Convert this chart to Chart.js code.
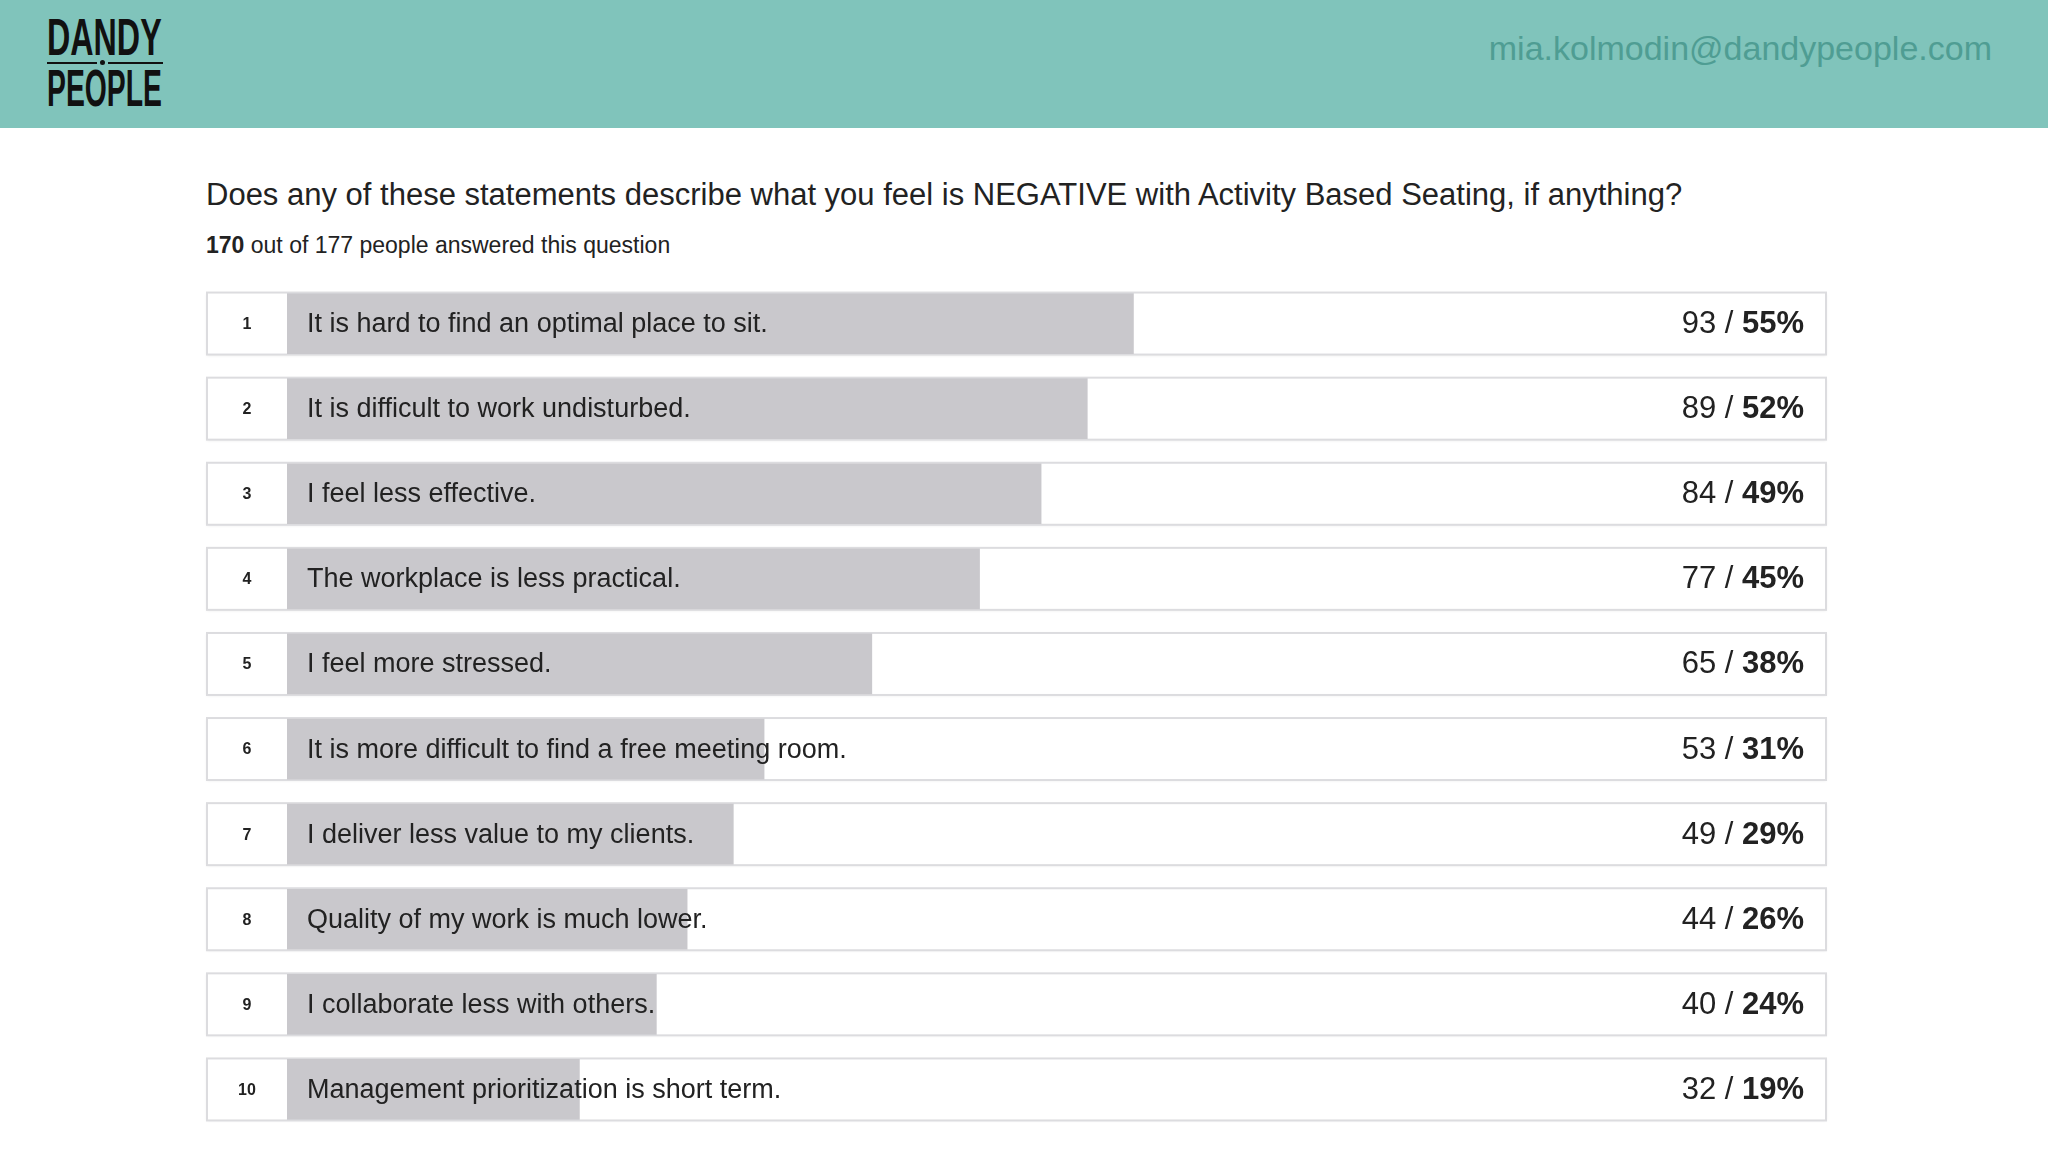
<!DOCTYPE html>
<html>
<head>
<meta charset="utf-8">
<script src="https://cdn.jsdelivr.net/npm/chart.js@4"></script>
<style>
  body { margin: 0; width: 2048px; height: 1152px; background: #fff; overflow: hidden;
         font-family: "Liberation Sans", Arial, Helvetica, sans-serif; position: relative; }
  .band { position: absolute; left: 0; top: 0; width: 2048px; height: 128px; background: #80c4bb; }
  .logo { position: absolute; left: 47px; top: 15px; width: 116px; color: #111; }
  .logo .word { display: block; font-weight: bold; font-size: 52px; line-height: 45px;
                transform-origin: left top; white-space: nowrap; }
  .logo .rule { position: relative; height: 6px; }
  .logo .rule i { position: absolute; top: 2px; height: 2px; background: #111; }
  .logo .rule b { position: absolute; top: 0px; left: 53px; width: 5px; height: 5px; border-radius: 3px; background: #111; }
  .mail { position: absolute; right: 56px; top: 29px; font-size: 34px; color: #4f9d93; }
  .question { position: absolute; left: 206px; top: 177px; font-size: 31px; color: #222; white-space: nowrap; }
  .answered { position: absolute; left: 206px; top: 232px; font-size: 23px; color: #222; }
  canvas { position: absolute; left: 0; top: 0; }
</style>
</head>
<body>
<div class="band"></div>
<div class="logo">
  <span class="word" style="transform: scaleX(0.62)">DANDY</span>
  <div class="rule"><i style="left:0;width:50px"></i><b></b><i style="left:61px;width:55px"></i></div>
  <span class="word" style="transform: scaleX(0.545)">PEOPLE</span>
</div>
<div class="mail">mia.kolmodin@dandypeople.com</div>
<div class="question">Does any of these statements describe what you feel is NEGATIVE with Activity Based Seating, if anything?</div>
<div class="answered"><b>170</b> out of 177 people answered this question</div>
<canvas id="myChart" width="2048" height="1152"></canvas>
<script>
const ranks = ['1', '2', '3', '4', '5', '6', '7', '8', '9', '10'];

const statements = [
  'It is hard to find an optimal place to sit.',
  'It is difficult to work undisturbed.',
  'I feel less effective.',
  'The workplace is less practical.',
  'I feel more stressed.',
  'It is more difficult to find a free meeting room.',
  'I deliver less value to my clients.',
  'Quality of my work is much lower.',
  'I collaborate less with others.',
  'Management prioritization is short term.'
];

const counts = [93, 89, 84, 77, 65, 53, 49, 44, 40, 32];
const percents = [55, 52, 49, 45, 38, 31, 29, 26, 24, 19];

const fontFamily = '"Liberation Sans", Arial, Helvetica, sans-serif';

// white row boxes with the rank cell, behind the bars
const rowBoxes = {
  id: 'rowBoxes',
  beforeDatasetsDraw(chart) {
    const ctx = chart.ctx;
    const x = chart.scales.x;
    const x0 = x.getPixelForValue(0);
    const x1 = x.getPixelForValue(100);
    ctx.save();
    chart.getDatasetMeta(0).data.forEach(bar => {
      ctx.shadowColor = 'rgba(0,0,0,0.10)';
      ctx.shadowBlur = 3;
      ctx.shadowOffsetY = 1;
      ctx.fillStyle = '#fff';
      ctx.fillRect(x0 - 80, bar.y - 31, x1 - x0 + 80, 62);
      ctx.shadowColor = 'transparent';
      ctx.strokeStyle = '#dcdcdf';
      ctx.lineWidth = 2;
      ctx.strokeRect(x0 - 80, bar.y - 31, x1 - x0 + 80, 62);
    });
    ctx.restore();
  }
};

// rank numbers, statement text and "count / percent" on top of the bars
const rowText = {
  id: 'rowText',
  afterDatasetsDraw(chart) {
    const ctx = chart.ctx;
    const x = chart.scales.x;
    const x0 = x.getPixelForValue(0);
    const x1 = x.getPixelForValue(100);
    ctx.save();
    ctx.textBaseline = 'middle';
    ctx.fillStyle = '#222';
    chart.getDatasetMeta(0).data.forEach((bar, i) => {
      const y = bar.y + 1;
      ctx.font = 'bold 16px ' + fontFamily;
      ctx.textAlign = 'center';
      ctx.fillText(ranks[i], x0 - 40, y);

      ctx.font = '27px ' + fontFamily;
      ctx.textAlign = 'left';
      ctx.fillText(statements[i], x0 + 20, y);

      ctx.textAlign = 'right';
      ctx.font = 'bold 31px ' + fontFamily;
      const pct = percents[i] + '%';
      ctx.fillText(pct, x1 - 22, y);
      const w = ctx.measureText(pct).width;
      ctx.font = '31px ' + fontFamily;
      ctx.fillText(counts[i] + ' / ', x1 - 22 - w, y);
    });
    ctx.restore();
  }
};

const data = {
  labels: statements,
  datasets: [{
    label: 'Negative with Activity Based Seating',
    data: percents,
    backgroundColor: '#c9c8cc',
    borderWidth: 0,
    barThickness: 60
  }]
};

const config = {
  type: 'bar',
  data: data,
  options: {
    indexAxis: 'y',
    responsive: false,
    animation: false,
    layout: {
      padding: { left: 287, right: 222, top: 281, bottom: 20 }
    },
    scales: {
      x: { min: 0, max: 100, display: false },
      y: { display: false }
    },
    plugins: {
      legend: { display: false },
      tooltip: { enabled: false }
    }
  },
  plugins: [rowBoxes, rowText]
};

const myChart = new Chart(
  document.getElementById('myChart'),
  config
);
</script>
</body>
</html>
